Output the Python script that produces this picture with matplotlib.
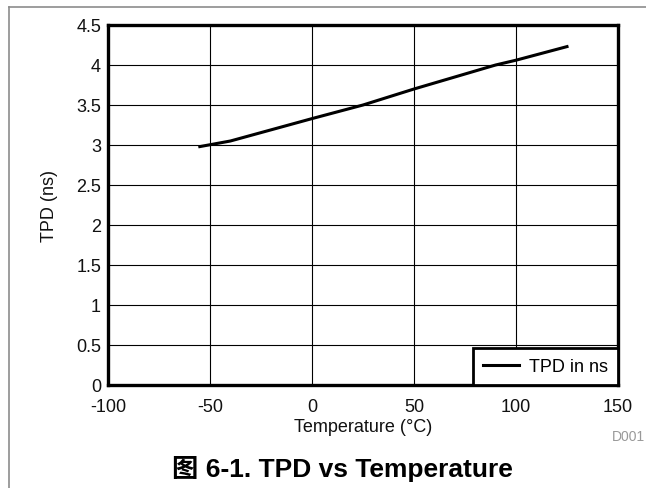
import matplotlib
matplotlib.use("Agg")
import matplotlib.pyplot as plt
from matplotlib.lines import Line2D

temps = [-55, -40, 0, 25, 50, 90, 100, 125]
tpd = [2.98, 3.05, 3.33, 3.50, 3.70, 4.00, 4.06, 4.23]
xticks = [-100, -50, 0, 50, 100, 150]
xtick_labels = ["-100", "-50", "0", "50", "100", "150"]
yticks = [0, 0.5, 1, 1.5, 2, 2.5, 3, 3.5, 4, 4.5]
ytick_labels = ["0", "0.5", "1", "1.5", "2", "2.5", "3", "3.5", "4", "4.5"]
series_name = "TPD in ns"

plt.rcParams['font.family'] = ['Liberation Sans', 'Noto Sans CJK SC', 'DejaVu Sans']
plt.rcParams['axes.unicode_minus'] = False

W, H = 646, 489
fig = plt.figure(figsize=(W / 100, H / 100), dpi=100)
fig.patch.set_facecolor('white')

# outer grey frame (left and top)
fig.add_artist(Line2D([9 / W, 9 / W], [0, 1 - 8 / H], transform=fig.transFigure,
                      color='#8c8c8c', lw=1.2))
fig.add_artist(Line2D([9 / W, 1], [1 - 8 / H, 1 - 8 / H], transform=fig.transFigure,
                      color='#8c8c8c', lw=1.2))

ax = fig.add_axes([108 / W, 1 - 386 / H, (618 - 108) / W, (386 - 26) / H])
ax.plot(temps, tpd, color='black', lw=2.2, label=series_name)
ax.set_xlim(-100, 150)
ax.set_ylim(0, 4.5)
ax.set_xticks(xticks)
ax.set_xticklabels(xtick_labels)
ax.set_yticks(yticks)
ax.set_yticklabels(ytick_labels)
ax.grid(True, color='black', lw=0.8)
ax.set_axisbelow(True)
for s in ax.spines.values():
    s.set_linewidth(2.4)
    s.set_color('black')
ax.tick_params(axis='both', length=0, labelsize=13, colors='#111111')
ax.tick_params(axis='x', pad=9)
ax.tick_params(axis='y', pad=5)

ax.set_xlabel("Temperature (°C)", fontsize=13, color='#111111')
ax.xaxis.set_label_coords(0.5, (386 - 428) / 360)
ax.xaxis.label.set_va('center')
ax.set_ylabel("TPD (ns)", fontsize=13, color='#111111')
ax.yaxis.set_label_coords((50 - 108) / 510, 0.5)
ax.yaxis.label.set_va('center')

leg = ax.legend(loc='lower right', bbox_to_anchor=(1, 0), borderaxespad=0,
                fontsize=13, fancybox=False, framealpha=1, edgecolor='black',
                handlelength=2.0, handletextpad=0.55, borderpad=0.55)
leg.get_frame().set_linewidth(2.0)

fig.text(645 / W, 1 - 437 / H, "D001", ha='right', va='center', fontsize=10, color='#999999')
fig.text(342 / W, 1 - 469 / H, "图 6-1. TPD vs Temperature", ha='center', va='center',
         fontsize=19, fontweight='bold', color='black')

fig.savefig("out.png", dpi=100)
